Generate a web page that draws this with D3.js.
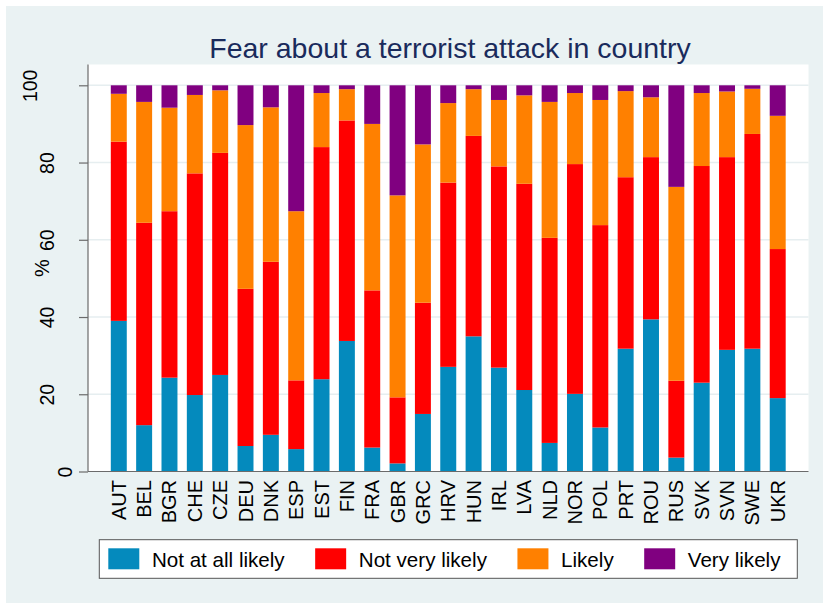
<!DOCTYPE html>
<html>
<head>
<meta charset="utf-8">
<script src="https://cdn.jsdelivr.net/npm/d3@7"></script>
<style>
  html, body { margin: 0; padding: 0; background: #ffffff; }
  svg { display: block; font-family: "Liberation Sans", Arial, sans-serif; }
</style>
</head>
<body>
<svg id="chart" width="823" height="603"></svg>
<script>
// Share of respondents (%) by fear level, per country
const countries = ["AUT","BEL","BGR","CHE","CZE","DEU","DNK","ESP","EST","FIN","FRA","GBR","GRC","HRV",
                   "HUN","IRL","LVA","NLD","NOR","POL","PRT","ROU","RUS","SVK","SVN","SWE","UKR"];
const notAtAllLikely = [39.0,12.0,24.3,19.8,25.0, 6.6, 9.5, 5.8,23.9,33.8, 6.2, 2.1,14.9,27.1,
                        35.0,26.9,21.1, 7.4,20.1,11.4,31.8,39.4, 3.6,23.0,31.5,31.8,19.0];
const notVeryLikely  = [46.4,52.4,43.1,57.4,57.5,40.7,44.8,17.8,60.1,57.1,40.7,17.1,28.8,47.7,
                        51.9,52.1,53.4,53.1,59.5,52.4,44.4,42.0,19.9,56.1,49.9,55.6,38.6];
const likely         = [12.4,31.3,26.8,20.3,16.2,42.4,40.0,43.8,14.0, 8.1,43.1,52.3,41.0,20.6,
                        12.1,17.2,22.9,35.2,18.4,32.4,22.3,15.5,50.2,18.9,17.0,11.7,34.5];
const veryLikely     = [ 2.2, 4.3, 5.8, 2.5, 1.3,10.3, 5.7,32.6, 2.0, 1.0,10.0,28.5,15.3, 4.6,
                         1.0, 3.8, 2.6, 4.3, 2.0, 3.8, 1.5, 3.1,26.3, 2.0, 1.6, 0.9, 7.9];
const seriesNames = ["Not at all likely","Not very likely","Likely","Very likely"];
const seriesColors = ["#048abd","#ff0000","#ff8000","#800080"];
const yTicks = [0,20,40,60,80,100];
const titleText = "Fear about a terrorist attack in country";
const yTitle = "%";

const rows = countries.map((c, i) => ({
  country: c,
  "Not at all likely": notAtAllLikely[i],
  "Not very likely": notVeryLikely[i],
  "Likely": likely[i],
  "Very likely": veryLikely[i]
}));

const svg = d3.select("#chart");
const W = 823, H = 603;
const plot = { left: 88, right: 808.5, top: 64.5, bottom: 471.5 };

// outer background
svg.append("rect").attr("x", 6).attr("y", 6).attr("width", W - 6).attr("height", H - 6)
  .attr("fill", "#eaf2f3");
// plot region
svg.append("rect").attr("x", plot.left).attr("y", plot.top)
  .attr("width", plot.right - plot.left).attr("height", plot.bottom - plot.top)
  .attr("fill", "#ffffff");

const x = d3.scaleBand().domain(countries).range([plot.left, plot.right])
  .paddingInner(0.37).paddingOuter(0.9);
const y = d3.scaleLinear().domain([0, 100]).range([plot.bottom, 85.3]);

// grid lines
svg.append("g").selectAll("line").data(yTicks.filter(t => t > 0)).join("line")
  .attr("x1", plot.left).attr("x2", plot.right)
  .attr("y1", d => y(d)).attr("y2", d => y(d))
  .attr("stroke", "#e6eef0").attr("stroke-width", 1.5);

// stacked bars
const stacked = d3.stack().keys(seriesNames)(rows);
const color = d3.scaleOrdinal().domain(seriesNames).range(seriesColors);
svg.append("g").selectAll("g").data(stacked).join("g")
  .attr("fill", d => color(d.key))
  .selectAll("rect").data(d => d).join("rect")
  .attr("x", d => x(d.data.country))
  .attr("width", x.bandwidth())
  .attr("y", d => y(d[1]))
  .attr("height", d => y(d[0]) - y(d[1]));

// y axis
const yAxis = svg.append("g").attr("transform", `translate(${plot.left},0)`)
  .call(d3.axisLeft(y).tickValues(yTicks).tickSize(9).tickFormat(d3.format("d")));
yAxis.select(".domain").remove();
yAxis.selectAll(".tick line").attr("stroke", "#6b6b6b").attr("stroke-width", 1.2);
yAxis.selectAll(".tick text")
  .attr("font-size", 19.5)
  .attr("fill", "#000")
  .attr("text-anchor", "middle")
  .attr("x", null).attr("dy", null)
  .attr("transform", d => {
    const n = String(d).length;
    const bx = -16.5 - (n - 1) * 17.5;
    return `translate(${bx},0) rotate(-90)`;
  });
svg.append("line").attr("x1", plot.left).attr("x2", plot.left)
  .attr("y1", plot.top).attr("y2", plot.bottom)
  .attr("stroke", "#6b6b6b").attr("stroke-width", 1.2);

// y axis title
svg.append("text").attr("transform", "translate(49.3,268) rotate(-90)")
  .attr("text-anchor", "middle").attr("font-size", 20).attr("fill", "#000").text(yTitle);

// x axis
const xAxis = svg.append("g").attr("transform", `translate(0,${plot.bottom})`)
  .call(d3.axisBottom(x).tickSize(0));
xAxis.select(".domain").remove();
xAxis.selectAll(".tick text")
  .attr("font-size", 20).attr("fill", "#000")
  .attr("text-anchor", "end")
  .attr("y", null).attr("dy", null)
  .attr("dominant-baseline", "central")
  .attr("transform", "translate(0,8.5) rotate(-90)");
svg.append("line").attr("x1", plot.left).attr("x2", plot.right)
  .attr("y1", plot.bottom).attr("y2", plot.bottom)
  .attr("stroke", "#6b6b6b").attr("stroke-width", 1.2);

// title
svg.append("text").attr("x", 450).attr("y", 58).attr("text-anchor", "middle")
  .attr("font-size", 28.5).attr("fill", "#1a2b5c").text(titleText);

// legend
const legend = svg.append("g");
legend.append("rect").attr("x", 99.3).attr("y", 539.7).attr("width", 698).attr("height", 38.6)
  .attr("fill", "#fff").attr("stroke", "#555").attr("stroke-width", 1);
let lx = 108.3;
seriesNames.forEach((name, i) => {
  legend.append("rect").attr("x", lx).attr("y", 548.3).attr("width", 31).attr("height", 21)
    .attr("fill", seriesColors[i]);
  const t = legend.append("text").attr("x", lx + 43.6).attr("y", 566.5)
    .attr("font-size", 20.6).attr("fill", "#000").text(name);
  lx = lx + 43.6 + t.node().getComputedTextLength() + 30.5;
});
</script>
</body>
</html>
